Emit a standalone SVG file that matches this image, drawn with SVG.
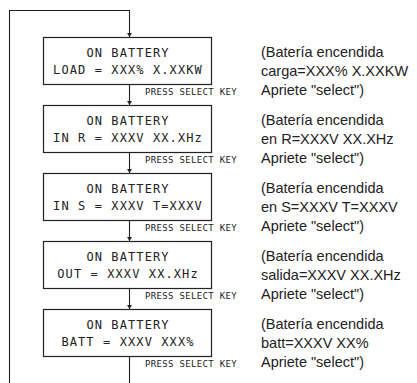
<svg xmlns="http://www.w3.org/2000/svg" width="417" height="383" viewBox="0 0 417 383">
<style>
.box{fill:#fff;stroke:#222;stroke-width:1.2}
.lcd{font-family:"DejaVu Sans Mono",monospace;font-size:12px;letter-spacing:1.1px;fill:#222;text-anchor:middle}
.key{font-family:"DejaVu Sans Mono",monospace;font-size:9px;letter-spacing:0.33px;fill:#222}
.es{font-family:"Liberation Sans",Arial,sans-serif;font-size:14.5px;fill:#222}
.ln{fill:none;stroke:#222;stroke-width:1.1}
</style>
<defs>
<marker id="ah" viewBox="0 0 8 10" refX="8" refY="5" markerWidth="4" markerHeight="5" orient="auto" markerUnits="userSpaceOnUse">
<path d="M0,0 L8,5 L0,10 Z" fill="#222"/>
</marker>
</defs>
<g id="connectors">
<path class="ln" d="M9.5,383 V10.5 H129.5 V37" marker-end="url(#ah)"/>
<path class="ln" d="M129.5,84 V105" marker-end="url(#ah)"/>
<path class="ln" d="M129.5,152 V173" marker-end="url(#ah)"/>
<path class="ln" d="M129.5,220 V241" marker-end="url(#ah)"/>
<path class="ln" d="M129.5,288 V309" marker-end="url(#ah)"/>
<path class="ln" d="M129.5,356 V383"/>
</g>
<g id="node1">
<rect class="box" x="43.5" y="37.5" width="168" height="47"/>
<text class="lcd" x="128" y="57">ON BATTERY</text>
<text class="lcd" x="128" y="74">LOAD = XXX% X.XXKW</text>
<text class="key" x="145" y="95">PRESS SELECT KEY</text>
<text class="es" x="261" y="57">(Batería encendida</text>
<text class="es" x="261" y="76">carga=XXX% X.XXKW</text>
<text class="es" x="261" y="95">Apriete "select")</text>
</g>
<g id="node2">
<rect class="box" x="43.5" y="105.5" width="168" height="47"/>
<text class="lcd" x="128" y="125">ON BATTERY</text>
<text class="lcd" x="128" y="142">IN R = XXXV XX.XHz</text>
<text class="key" x="145" y="163">PRESS SELECT KEY</text>
<text class="es" x="261" y="125">(Batería encendida</text>
<text class="es" x="261" y="144">en R=XXXV XX.XHz</text>
<text class="es" x="261" y="163">Apriete "select")</text>
</g>
<g id="node3">
<rect class="box" x="43.5" y="173.5" width="168" height="47"/>
<text class="lcd" x="128" y="193">ON BATTERY</text>
<text class="lcd" x="128" y="210">IN S = XXXV T=XXXV</text>
<text class="key" x="145" y="231">PRESS SELECT KEY</text>
<text class="es" x="261" y="193">(Batería encendida</text>
<text class="es" x="261" y="212">en S=XXXV T=XXXV</text>
<text class="es" x="261" y="231">Apriete "select")</text>
</g>
<g id="node4">
<rect class="box" x="43.5" y="241.5" width="168" height="47"/>
<text class="lcd" x="128" y="261">ON BATTERY</text>
<text class="lcd" x="128" y="278">OUT = XXXV XX.XHz</text>
<text class="key" x="145" y="299">PRESS SELECT KEY</text>
<text class="es" x="261" y="261">(Batería encendida</text>
<text class="es" x="261" y="280">salida=XXXV XX.XHz</text>
<text class="es" x="261" y="299">Apriete "select")</text>
</g>
<g id="node5">
<rect class="box" x="43.5" y="309.5" width="168" height="47"/>
<text class="lcd" x="128" y="329">ON BATTERY</text>
<text class="lcd" x="128" y="346">BATT = XXXV XXX%</text>
<text class="key" x="145" y="367">PRESS SELECT KEY</text>
<text class="es" x="261" y="329">(Batería encendida</text>
<text class="es" x="261" y="348">batt=XXXV XX%</text>
<text class="es" x="261" y="367">Apriete "select")</text>
</g>
</svg>
